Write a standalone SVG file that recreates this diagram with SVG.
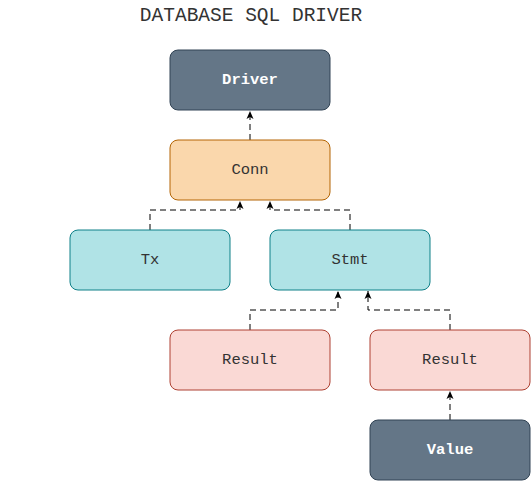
<svg xmlns="http://www.w3.org/2000/svg" width="531" height="482" viewBox="0 0 531 482">
<defs>
<style>
.box{stroke-width:1}
.lbl{font-family:"Liberation Mono","Courier New",monospace;font-size:15.5px;text-anchor:middle;dominant-baseline:central}
.dark rect{fill:#647687;stroke:#314354}
.dark text{fill:#ffffff;font-weight:bold}
.orange rect{fill:#fad7ac;stroke:#b46504}
.teal rect{fill:#b0e3e6;stroke:#0e8088}
.red rect{fill:#fad9d5;stroke:#ae4132}
.light text{fill:#333333}
.edge{fill:none;stroke:#000000;stroke-width:1;stroke-dasharray:6 4}
</style>
<marker id="arr" viewBox="0 0 8 8" refX="8" refY="4" markerWidth="8" markerHeight="8" orient="auto" markerUnits="userSpaceOnUse">
<path d="M0,0.5 L8,4 L0,7.5 L2,4 Z" fill="#000000"/>
</marker>
</defs>
<rect width="531" height="482" fill="#ffffff"/>
<text x="251" y="16" font-family="Liberation Mono,'Courier New',monospace" font-size="19.5" text-anchor="middle" dominant-baseline="central" fill="#333333">DATABASE SQL DRIVER</text>
<g id="connectors">
<path class="edge" d="M250,140 L250,111" marker-end="url(#arr)"/>
<path class="edge" d="M150,230 L150,210 L240,210 L240,201" marker-end="url(#arr)"/>
<path class="edge" d="M350,230 L350,210 L270,210 L270,201" marker-end="url(#arr)"/>
<path class="edge" d="M250,330 L250,310 L338,310 L338,291" marker-end="url(#arr)"/>
<path class="edge" d="M450,330 L450,310 L368,310 L368,291" marker-end="url(#arr)"/>
<path class="edge" d="M450,420 L450,391" marker-end="url(#arr)"/>
</g>
<g id="driver" class="dark"><rect x="170" y="50" width="160" height="60" rx="8"/><text class="lbl" x="250" y="80">Driver</text></g>
<g id="conn" class="orange light"><rect x="170" y="140" width="160" height="60" rx="8"/><text class="lbl" x="250" y="170">Conn</text></g>
<g id="tx" class="teal light"><rect x="70" y="230" width="160" height="60" rx="8"/><text class="lbl" x="150" y="260">Tx</text></g>
<g id="stmt" class="teal light"><rect x="270" y="230" width="160" height="60" rx="8"/><text class="lbl" x="350" y="260">Stmt</text></g>
<g id="result1" class="red light"><rect x="170" y="330" width="160" height="60" rx="8"/><text class="lbl" x="250" y="360">Result</text></g>
<g id="result2" class="red light"><rect x="370" y="330" width="160" height="60" rx="8"/><text class="lbl" x="450" y="360">Result</text></g>
<g id="value" class="dark"><rect x="370" y="420" width="160" height="60" rx="8"/><text class="lbl" x="450" y="450">Value</text></g>
</svg>
